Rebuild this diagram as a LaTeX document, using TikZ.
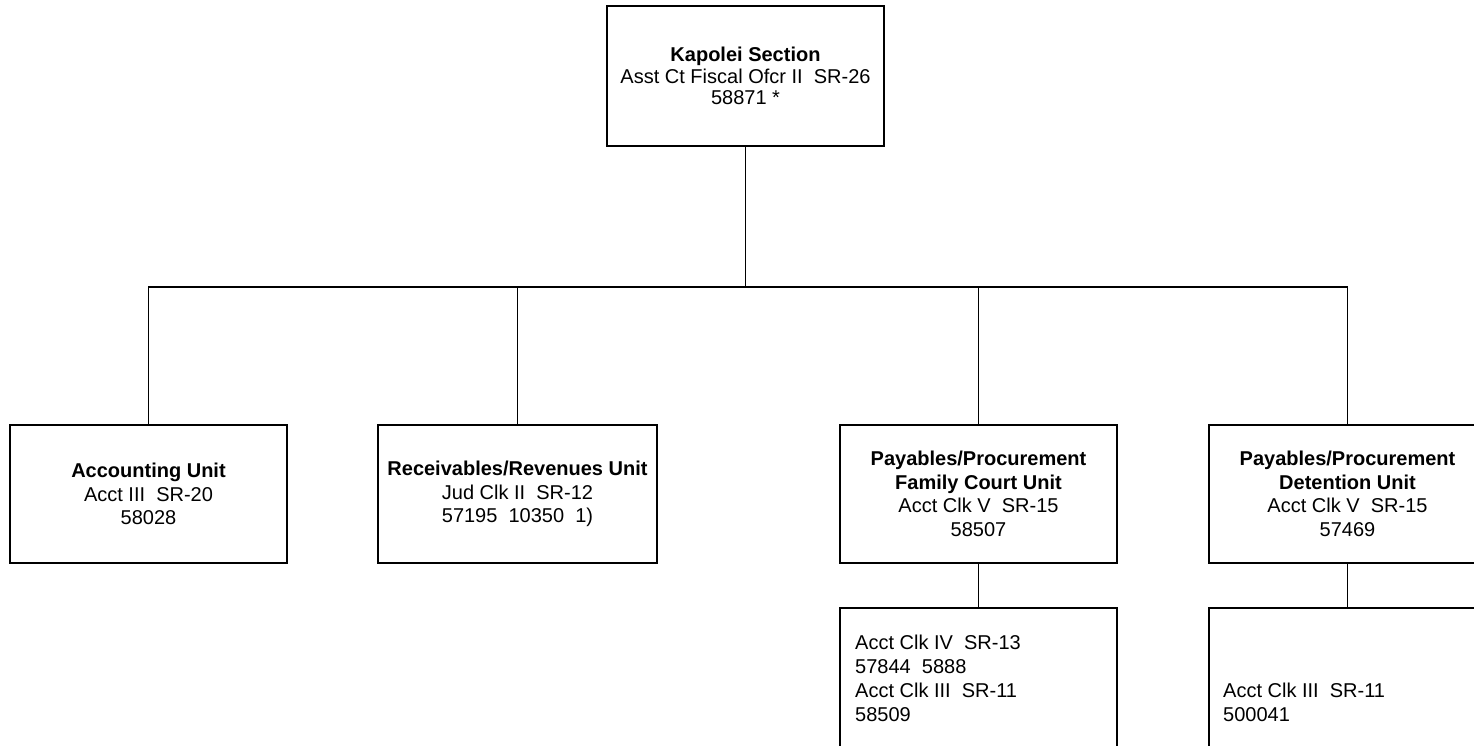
\documentclass[tikz,border=0pt]{standalone}
\usepackage{fontspec}
\setmainfont{Liberation Sans}
\begin{document}
\begin{tikzpicture}[x=1pt,y=-1pt,
  unitbox/.style={draw, line width=1.8pt, minimum width=277pt, minimum height=138pt,
    inner sep=0pt, outer sep=0pt, align=center, font=\fontsize{20}{23.5}\selectfont},
  staffbox/.style={draw, line width=1.8pt, minimum width=277pt, minimum height=160pt,
    inner sep=0pt, outer sep=0pt, anchor=north},
  stafftext/.style={anchor=north west, align=left, inner sep=0pt,
    font=\fontsize{20}{24}\selectfont},
  conn/.style={line width=1.3pt}
]
\useasboundingbox (0,0) rectangle (1474,745);
\clip (0,0) rectangle (1474,745);

% section head
\node[unitbox, minimum height=140pt, font=\fontsize{20}{21.5}\selectfont] (head) at (745.5,76)
  {\textbf{Kapolei Section}\\Asst Ct Fiscal Ofcr II\ \ SR-26\\58871 *};

% units
\node[unitbox] (acc) at (148.5,494) {\textbf{Accounting Unit}\\Acct III\ \ SR-20\\58028};
\node[unitbox, minimum width=279pt] (rec) at (517.5,494) {\textbf{Receivables/Revenues Unit}\\Jud Clk II\ \ SR-12\\57195\ \ 10350\ \ 1)};
\node[unitbox] (fam) at (978.5,494) {\textbf{Payables/Procurement}\\\textbf{Family Court Unit}\\Acct Clk V\ \ SR-15\\58507};
\node[unitbox] (det) at (1347.5,494) {\textbf{Payables/Procurement}\\\textbf{Detention Unit}\\Acct Clk V\ \ SR-15\\57469};

% staff under the payables units
\node[staffbox] (famstaff) at (978.5,608) {};
\node[staffbox] (detstaff) at (1347.5,608) {};
\node[stafftext] (famstafft) at (855,635) {Acct Clk IV\ \ SR-13\\57844\ \ 5888\\Acct Clk III\ \ SR-11\\58509};
\node[stafftext] (detstafft) at (1223,683) {Acct Clk III\ \ SR-11\\500041};

% connectors
\coordinate (bus) at (0,287);
\draw[conn] (head.south) -- (head.south |- bus);
\draw[conn] (acc.north) -- (acc.north |- bus) -- (det.north |- bus) -- (det.north);
\draw[conn] (rec.north) -- (rec.north |- bus);
\draw[conn] (fam.north) -- (fam.north |- bus);
\draw[conn] (fam.south) -- (famstaff.north);
\draw[conn] (det.south) -- (detstaff.north);
\end{tikzpicture}
\end{document}
